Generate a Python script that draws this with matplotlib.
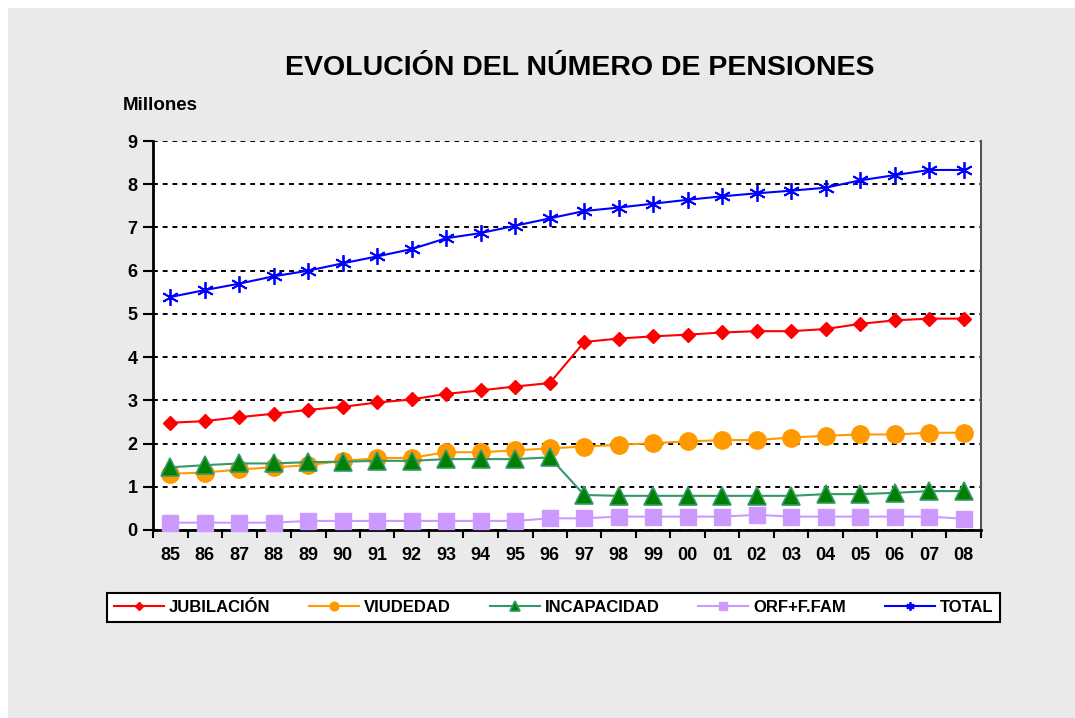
import numpy as np
import matplotlib
matplotlib.use("Agg")
import matplotlib.pyplot as plt
from matplotlib.patches import Rectangle

plt.rcParams['font.family'] = ['Liberation Sans', 'DejaVu Sans']

years = ["85", "86", "87", "88", "89", "90", "91", "92", "93", "94", "95", "96",
         "97", "98", "99", "00", "01", "02", "03", "04", "05", "06", "07", "08"]

jubilacion = [2.48, 2.52, 2.61, 2.69, 2.78, 2.85, 2.95, 3.02, 3.15, 3.23, 3.32, 3.40,
              4.35, 4.43, 4.48, 4.52, 4.57, 4.60, 4.60, 4.65, 4.77, 4.85, 4.89, 4.89]
viudedad = [1.30, 1.33, 1.40, 1.45, 1.50, 1.60, 1.66, 1.67, 1.80, 1.80, 1.84, 1.89,
            1.93, 1.97, 2.01, 2.05, 2.08, 2.08, 2.14, 2.18, 2.21, 2.21, 2.25, 2.25]
incapacidad = [1.45, 1.50, 1.54, 1.54, 1.57, 1.58, 1.60, 1.60, 1.64, 1.64, 1.64, 1.68,
               0.81, 0.79, 0.79, 0.79, 0.79, 0.79, 0.79, 0.83, 0.83, 0.86, 0.90, 0.90]
orf_ffam = [0.17, 0.17, 0.17, 0.17, 0.21, 0.21, 0.21, 0.21, 0.21, 0.21, 0.21, 0.27,
            0.27, 0.31, 0.31, 0.31, 0.31, 0.35, 0.31, 0.31, 0.31, 0.31, 0.31, 0.26]
total = [5.39, 5.55, 5.70, 5.87, 6.00, 6.17, 6.33, 6.50, 6.75, 6.87, 7.04, 7.21,
         7.38, 7.46, 7.55, 7.64, 7.72, 7.79, 7.85, 7.92, 8.09, 8.21, 8.33, 8.33]

series_labels = ["JUBILACIÓN", "VIUDEDAD", "INCAPACIDAD", "ORF+F.FAM", "TOTAL"]
y_ticks = [0, 1, 2, 3, 4, 5, 6, 7, 8, 9]

W, H = 1075, 718
fig = plt.figure(figsize=(W / 100, H / 100), dpi=100, facecolor='white')
fig.patches.append(Rectangle((8 / W, 0), 1 - 8 / W, 1 - 8 / H, transform=fig.transFigure,
                             facecolor='#EAEAEA', edgecolor='none', zorder=-10))

ax = fig.add_axes([153 / W, 1 - 530 / H, (981 - 153) / W, (530 - 141) / H])
ax.set_facecolor('white')

x = np.arange(len(years))
ax.plot(x, jubilacion, color='#FF0000', lw=1.5, marker='D', ms=7.5,
        mfc='#FF0000', mec='#FF0000', label=series_labels[0], zorder=3)
ax.plot(x, viudedad, color='#FF9900', lw=1.5, marker='o', ms=12.5,
        mfc='#FF9900', mec='#FF9900', label=series_labels[1], zorder=4)
ax.plot(x, incapacidad, color='#339966', lw=1.5, marker='^', ms=13,
        mfc='#008000', mec='#339966', mew=1.2, label=series_labels[2], zorder=5)
ax.plot(x, orf_ffam, color='#CC99FF', lw=1.5, marker='s', ms=12,
        mfc='#CC99FF', mec='#CC99FF', label=series_labels[3], zorder=6)
ax.plot(x, total, color='#0000FF', lw=1.5, marker=(6, 2, 0), ms=12,
        mec='#0000FF', mew=1.3, label=series_labels[4], zorder=7)

ax.set_xlim(-0.5, len(years) - 0.5)
ax.set_ylim(0, 9)
ax.set_yticks(y_ticks)
ax.set_yticklabels([str(v) for v in y_ticks], fontsize=13, fontweight='bold')
ax.set_xticks(x)
ax.set_xticklabels(years, fontsize=13, fontweight='bold')
ax.set_xticks(np.arange(-0.5, len(years), 1.0), minor=True)
ax.tick_params(axis='x', which='major', length=0, pad=12)
ax.tick_params(axis='x', which='minor', length=6, width=1.5, direction='out')
ax.tick_params(axis='y', which='major', length=7, width=1.5, direction='out', pad=4)

ax.yaxis.grid(True, color='black', linestyle=(0, (2.5, 2.5)), lw=1.4)
ax.set_axisbelow(True)

ax.spines['top'].set_visible(False)
ax.spines['left'].set_linewidth(2)
ax.spines['bottom'].set_linewidth(2)
ax.spines['right'].set_color('#555555')
ax.spines['right'].set_linewidth(1.5)
for m in ax.get_lines():
    m.set_clip_on(False)

fig.text(580 / W, 1 - 68 / H, "EVOLUCIÓN DEL NÚMERO DE PENSIONES",
         ha='center', va='center', fontsize=20.5, fontweight='bold')
fig.text(123 / W, 1 - 105 / H, "Millones", ha='left', va='center',
         fontsize=13.5, fontweight='bold')

handles, labels = ax.get_legend_handles_labels()
leg = fig.legend(handles, labels, loc='center', ncol=5, mode='expand',
                 bbox_to_anchor=(107 / W, 1 - 632 / H, (1000 - 107) / W, (632 - 583) / H),
                 borderaxespad=0, frameon=True, fancybox=False, framealpha=1,
                 edgecolor='black', handlelength=3.0, handletextpad=0.3,
                 markerscale=0.5, prop={'weight': 'bold', 'size': 12})
leg.get_frame().set_linewidth(1.5)

fig.savefig("out.png", dpi=100, facecolor=fig.get_facecolor())
